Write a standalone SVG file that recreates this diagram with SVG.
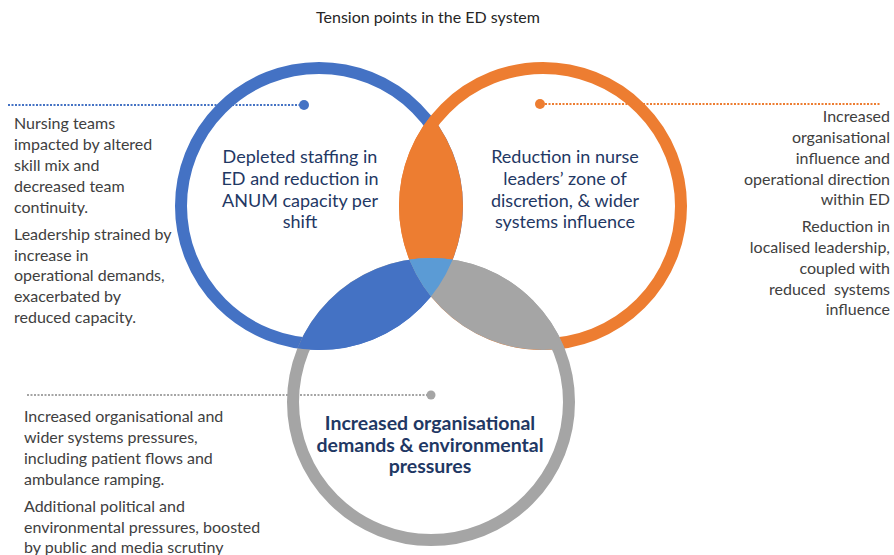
<svg xmlns="http://www.w3.org/2000/svg" width="894" height="555" viewBox="0 0 894 555">
  <style>
    .title { font-family: Lato, "Liberation Sans", sans-serif; font-size: 16px; fill: #262626; }
    .note { font-family: Lato, "Liberation Sans", sans-serif; font-size: 16px; fill: #404040; }
    .label { font-family: Lato, "Liberation Sans", sans-serif; font-size: 18px; fill: #1F3864; text-anchor: middle; }
    .label.bold { font-weight: bold; font-size: 19.5px; }
    .ring { fill: none; stroke-width: 12; }
    .leader { fill: none; stroke-width: 2; stroke-dasharray: 2 1.5; }
  </style>
  <defs>
    <clipPath id="discBlue"><circle cx="319" cy="206" r="144"/></clipPath>
    <clipPath id="discOrange"><circle cx="543" cy="206" r="144"/></clipPath>
    <clipPath id="discGray"><circle cx="431" cy="402" r="144"/></clipPath>
  </defs>

  <rect width="894" height="555" fill="#ffffff"/>

  <text class="title" x="428" y="23" text-anchor="middle">Tension points in the ED system</text>

  <!-- circle outlines -->
  <g id="circle-staffing">
    <circle class="ring" cx="319" cy="206" r="138" stroke="#4472C4"/>
  </g>
  <g id="circle-discretion">
    <circle class="ring" cx="543" cy="206" r="138" stroke="#ED7D31"/>
  </g>
  <g id="circle-demands">
    <circle class="ring" cx="431" cy="402" r="138" stroke="#A5A5A5"/>
  </g>

  <!-- overlap lenses -->
  <g id="overlaps">
    <circle cx="543" cy="206" r="144" fill="#ED7D31" clip-path="url(#discBlue)"/>
    <circle cx="319" cy="206" r="144" fill="#4472C4" clip-path="url(#discGray)"/>
    <circle cx="431" cy="402" r="144" fill="#A5A5A5" clip-path="url(#discOrange)"/>
    <g clip-path="url(#discBlue)">
      <circle cx="431" cy="402" r="144" fill="#5B9BD5" clip-path="url(#discOrange)"/>
    </g>
  </g>

  <!-- dotted leaders -->
  <g id="connectors">
    <line class="leader" x1="8" y1="105" x2="300" y2="105" stroke="#4472C4"/>
    <circle cx="304" cy="105" r="5" fill="#4472C4"/>
    <line class="leader" x1="545" y1="104" x2="880" y2="104" stroke="#ED7D31"/>
    <circle cx="540" cy="104" r="5" fill="#ED7D31"/>
    <line class="leader" x1="27" y1="395" x2="427" y2="395" stroke="#A5A5A5"/>
    <circle cx="431" cy="395" r="4.5" fill="#A5A5A5"/>
  </g>

  <!-- circle labels -->
  <g id="label-staffing">
    <text class="label" x="300" y="163">Depleted staffing in</text>
    <text class="label" x="300" y="185">ED and reduction in</text>
    <text class="label" x="300" y="207">ANUM capacity per</text>
    <text class="label" x="300" y="228">shift</text>
  </g>
  <g id="label-discretion">
    <text class="label" x="565" y="163">Reduction in nurse</text>
    <text class="label" x="565" y="185">leaders’ zone of</text>
    <text class="label" x="565" y="207">discretion, &amp; wider</text>
    <text class="label" x="565" y="228">systems influence</text>
  </g>
  <g id="label-demands">
    <text class="label bold" x="430" y="430">Increased organisational</text>
    <text class="label bold" x="430" y="452">demands &amp; environmental</text>
    <text class="label bold" x="430" y="473">pressures</text>
  </g>

  <!-- side notes -->
  <g id="notes-staffing">
    <text class="note" x="14" y="129">Nursing teams</text>
    <text class="note" x="14" y="150">impacted by altered</text>
    <text class="note" x="14" y="171">skill mix and</text>
    <text class="note" x="14" y="192">decreased team</text>
    <text class="note" x="14" y="213">continuity.</text>
    <text class="note" x="14" y="240">Leadership strained by</text>
    <text class="note" x="14" y="261">increase in</text>
    <text class="note" x="14" y="281">operational demands,</text>
    <text class="note" x="14" y="302">exacerbated by</text>
    <text class="note" x="14" y="323">reduced capacity.</text>
  </g>
  <g id="notes-discretion" text-anchor="end">
    <text class="note" x="890" y="122">Increased</text>
    <text class="note" x="890" y="143">organisational</text>
    <text class="note" x="890" y="164">influence and</text>
    <text class="note" x="890" y="185">operational direction</text>
    <text class="note" x="890" y="205">within ED</text>
    <text class="note" x="890" y="232">Reduction in</text>
    <text class="note" x="890" y="253">localised leadership,</text>
    <text class="note" x="890" y="274">coupled with</text>
    <text class="note" x="890" y="295" xml:space="preserve">reduced  systems</text>
    <text class="note" x="890" y="315">influence</text>
  </g>
  <g id="notes-demands">
    <text class="note" x="24" y="422">Increased organisational and</text>
    <text class="note" x="24" y="443">wider systems pressures,</text>
    <text class="note" x="24" y="464">including patient flows and</text>
    <text class="note" x="24" y="485">ambulance ramping.</text>
    <text class="note" x="24" y="512">Additional political and</text>
    <text class="note" x="24" y="533">environmental pressures, boosted</text>
    <text class="note" x="24" y="553">by public and media scrutiny</text>
  </g>
</svg>
